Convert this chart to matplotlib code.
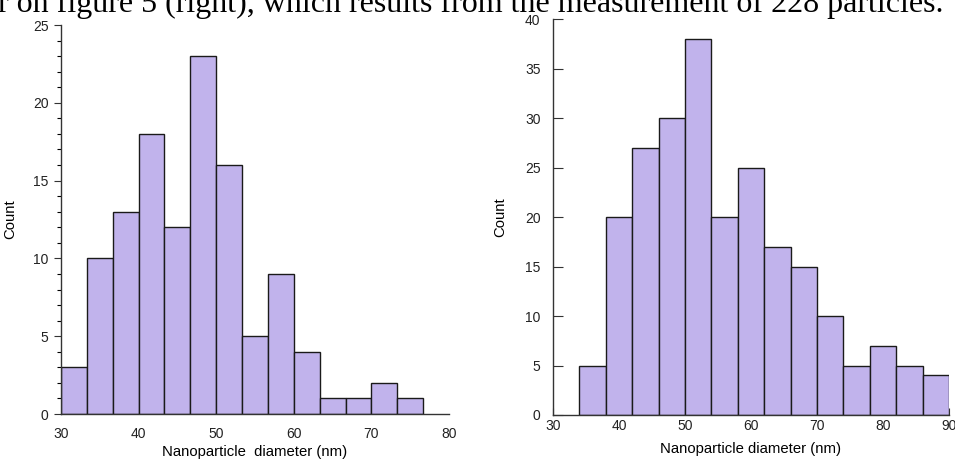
import numpy as np
import matplotlib
matplotlib.use("Agg")
import matplotlib.pyplot as plt
from matplotlib.ticker import MultipleLocator

# Left histogram data
left_bin_start = 30.0
left_bin_width = 10.0 / 3.0
left_counts = [3, 10, 13, 18, 12, 23, 16, 5, 9, 4, 1, 1, 2, 1]
left_xticks = [30, 40, 50, 60, 70, 80]
left_yticks = [0, 5, 10, 15, 20, 25]

# Right histogram data
right_bin_start = 34.0
right_bin_width = 4.0
right_counts = [5, 20, 27, 30, 38, 20, 25, 17, 15, 10, 5, 7, 5, 4]
right_xticks = [30, 40, 50, 60, 70, 80, 90]
right_yticks = [0, 5, 10, 15, 20, 25, 30, 35, 40]

caption = "r on figure 5 (right), which results from the measurement of 228 particles."

bar_color = "#C1B3EC"
edge_color = "#1a1a1a"

plt.rcParams['font.family'] = ['Liberation Sans', 'DejaVu Sans']

fig = plt.figure(figsize=(9.55, 4.59), dpi=100)

# caption text, partly cut at top
fig.text(-0.002, 1 - 12 / 459, caption, family='Liberation Serif', fontsize=23,
         ha='left', va='baseline', color='black')

axL = fig.add_axes([61 / 955, 1 - 414 / 459, 388 / 955, (414 - 25) / 459])
axR = fig.add_axes([553 / 955, 1 - 415 / 459, 396 / 955, (415 - 19.3) / 459])

for ax, start, width, counts in [(axL, left_bin_start, left_bin_width, left_counts),
                                 (axR, right_bin_start, right_bin_width, right_counts)]:
    n = len(counts)
    edges = start + width * np.arange(n + 1)
    ax.bar(edges[:-1], counts, width=np.diff(edges), align='edge',
           color=bar_color, edgecolor=edge_color, linewidth=1.0, zorder=2)
    for s in ['top', 'right']:
        ax.spines[s].set_visible(False)
    for s in ['left', 'bottom']:
        ax.spines[s].set_color('#333333')
        ax.spines[s].set_linewidth(1.0)
        ax.spines[s].set_zorder(3)
    ax.set_ylabel("Count", fontsize=10.7)
    ax.tick_params(labelsize=10, colors='#333333', labelcolor='#222222')

# Left axes
axL.set_xlim(30, 80)
axL.set_ylim(0, 25)
axL.set_xticks(left_xticks)
axL.set_yticks(left_yticks)
axL.yaxis.set_minor_locator(MultipleLocator(1))
axL.tick_params(axis='x', length=0, pad=9)
axL.tick_params(axis='y', which='major', direction='out', length=5, width=0.8, pad=4)
axL.tick_params(axis='y', which='minor', direction='out', length=3, width=0.8)
axL.set_xlabel("Nanoparticle  diameter (nm)", fontsize=10.7, labelpad=3)
axL.yaxis.set_label_coords(-0.113, 0.5)

# Right axes
axR.set_xlim(30, 90)
axR.set_ylim(0, 40)
axR.set_xticks(right_xticks)
axR.set_yticks(right_yticks)
axR.tick_params(axis='x', direction='in', length=5, width=0.8, pad=3)
axR.tick_params(axis='y', direction='in', length=7, width=0.8, pad=9)
axR.set_xlabel("Nanoparticle diameter (nm)", fontsize=10.7, labelpad=6.5)
axR.yaxis.set_label_coords(-0.116, 0.5)

fig.savefig("out.png", dpi=100)
